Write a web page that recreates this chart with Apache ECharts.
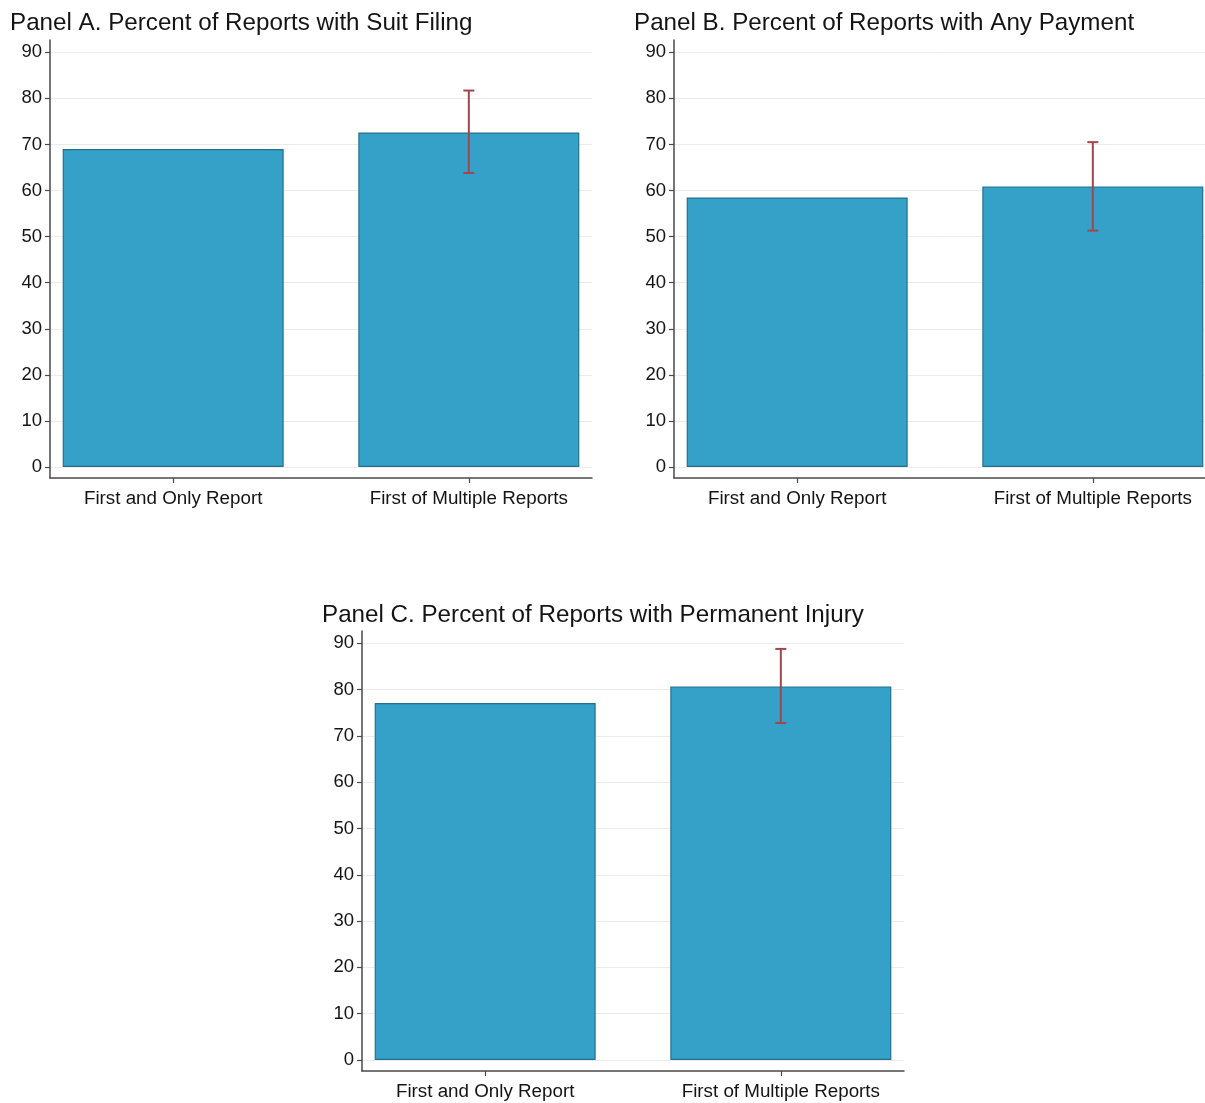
<!DOCTYPE html>
<html>
<head>
<meta charset="utf-8">
<title>Reports by filing status</title>
<script src="https://cdn.jsdelivr.net/npm/echarts@6/dist/echarts.min.js"></script>
<style>
  html, body { margin: 0; padding: 0; background: #ffffff; }
  #chart { width: 1205px; height: 1103px; }
</style>
</head>
<body>
<div id="chart"></div>
<script>
// Report groups shown on every panel's horizontal axis
const categories = ['First and Only Report', 'First of Multiple Reports'];

// Panel titles
const panelTitles = [
  'Panel A. Percent of Reports with Suit Filing',
  'Panel B. Percent of Reports with Any Payment',
  'Panel C. Percent of Reports with Permanent Injury'
];

// Percent values per group
const suitFiling = [69.0, 72.6];
const anyPayment = [58.5, 60.9];
const permanentInjury = [77.1, 80.7];

// Confidence interval bounds (only the multiple-report group has one)
const suitLow = [null, 63.8];
const suitHigh = [null, 81.7];
const paymentLow = [null, 51.3];
const paymentHigh = [null, 70.5];
const injuryLow = [null, 72.8];
const injuryHigh = [null, 88.8];

// Vertical axis tick labels
const yTicks = [0, 10, 20, 30, 40, 50, 60, 70, 80, 90];

const panels = [
  { values: suitFiling, low: suitLow, high: suitHigh },
  { values: anyPayment, low: paymentLow, high: paymentHigh },
  { values: permanentInjury, low: injuryLow, high: injuryHigh }
];

// Plot regions; panel B runs off the right edge of the page, so its
// horizontal range is trimmed to what fits while keeping the same scale.
const PX_PER_UNIT = 542 / (22 / 12);
const grids = [
  { left: 50, top: 40, width: 542, height: 438 },
  { left: 674, top: 40, width: 531, height: 438 },
  { left: 362, top: 631, width: 542, height: 440 }
];
const X_MIN = 7 / 12;
const xMax = grids.map(g => X_MIN + g.width / PX_PER_UNIT);

const titlePos = [
  { left: 10, top: 11 },
  { left: 634, top: 11 },
  { left: 322, top: 603 }
];

const BAR_COLOR = '#35a1c9';
const BAR_BORDER = '#24708f';
const CI_COLOR = '#9f464f';
const AXIS_COLOR = '#4a4a4a';
const TEXT_COLOR = '#141414';
const FONT = '"Liberation Sans", Arial, Helvetica, sans-serif';

const catPositions = categories.map((c, i) => i + 1);

const option = {
  backgroundColor: '#ffffff',
  animation: false,
  title: panelTitles.map((t, i) => ({
    text: t,
    left: titlePos[i].left,
    top: titlePos[i].top,
    padding: 0,
    textStyle: { fontFamily: FONT, fontSize: 24.2, fontWeight: 'normal', color: TEXT_COLOR }
  })),
  grid: grids.map(g => Object.assign({ containLabel: false }, g)),
  xAxis: grids.map((g, i) => ({
    type: 'value',
    gridIndex: i,
    min: X_MIN,
    max: xMax[i],
    axisLine: { show: true, onZero: false, lineStyle: { color: AXIS_COLOR, width: 1.5 } },
    axisTick: { show: true, length: 5, customValues: catPositions, lineStyle: { color: AXIS_COLOR, width: 1.2 } },
    axisLabel: {
      customValues: catPositions,
      margin: 11,
      fontFamily: FONT,
      fontSize: 18.8,
      color: TEXT_COLOR,
      formatter: v => categories[Math.round(v) - 1] || ''
    },
    splitLine: { show: false }
  })),
  yAxis: grids.map((g, i) => ({
    type: 'value',
    gridIndex: i,
    min: -2.39,
    max: 92.67,
    axisLine: { show: true, onZero: false, lineStyle: { color: AXIS_COLOR, width: 1.5 } },
    axisTick: { show: true, length: 5, customValues: yTicks, lineStyle: { color: AXIS_COLOR, width: 1.2 } },
    axisLabel: {
      customValues: yTicks,
      margin: 8,
      fontFamily: FONT,
      fontSize: 18.5,
      color: TEXT_COLOR
    },
    splitLine: { show: true, lineStyle: { color: '#ebebeb', width: 1 } }
  })),
  series: []
};

panels.forEach((p, i) => {
  option.series.push({
    type: 'bar',
    xAxisIndex: i,
    yAxisIndex: i,
    barWidth: 221,
    data: p.values.map((v, k) => [catPositions[k], v]),
    itemStyle: { color: BAR_COLOR, borderColor: BAR_BORDER, borderWidth: 1.2 },
    z: 2
  });
  const ciData = [];
  p.low.forEach((lo, k) => {
    if (lo !== null && p.high[k] !== null) ciData.push([catPositions[k], lo, p.high[k]]);
  });
  option.series.push({
    type: 'custom',
    xAxisIndex: i,
    yAxisIndex: i,
    z: 5,
    data: ciData,
    renderItem: function (params, api) {
      const x = api.value(0);
      const top = api.coord([x, api.value(2)]);
      const bot = api.coord([x, api.value(1)]);
      const cap = 5.5;
      const style = { stroke: CI_COLOR, lineWidth: 2 };
      return {
        type: 'group',
        children: [
          { type: 'line', shape: { x1: top[0], y1: top[1], x2: bot[0], y2: bot[1] }, style: style },
          { type: 'line', shape: { x1: top[0] - cap, y1: top[1], x2: top[0] + cap, y2: top[1] }, style: style },
          { type: 'line', shape: { x1: bot[0] - cap, y1: bot[1], x2: bot[0] + cap, y2: bot[1] }, style: style }
        ]
      };
    }
  });
});

const chart = echarts.init(document.getElementById('chart'), null, { renderer: 'canvas' });
chart.setOption(option);
</script>
</body>
</html>
